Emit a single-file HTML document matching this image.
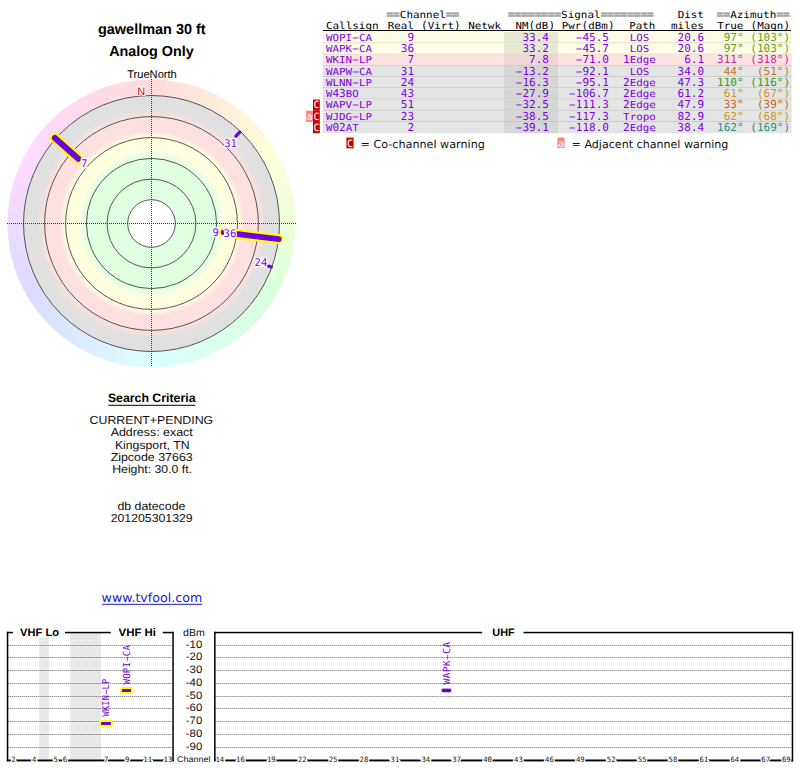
<!DOCTYPE html><html><head><meta charset="utf-8"><title>TV Fool</title><style>html,body{margin:0;padding:0;background:#fff;width:800px;height:768px;overflow:hidden}svg{display:block}text{white-space:pre}</style></head><body>
<svg width="800" height="768" viewBox="0 0 800 768" text-rendering="geometricPrecision">
<text x="98.0" y="34.3" font-family="'Liberation Sans', sans-serif" font-size="14.6" font-weight="bold" fill="#000" text-anchor="start" textLength="107.6" lengthAdjust="spacingAndGlyphs" >gawellman 30 ft</text>
<text x="109.2" y="55.7" font-family="'Liberation Sans', sans-serif" font-size="14.4" font-weight="bold" fill="#000" text-anchor="start" textLength="84.6" lengthAdjust="spacingAndGlyphs" >Analog Only</text>
<text x="127.2" y="77.6" font-family="'Liberation Sans', sans-serif" font-size="11.2" font-weight="normal" fill="#000" text-anchor="start" textLength="49.6" lengthAdjust="spacingAndGlyphs" >TrueNorth</text>
<defs><radialGradient id="rg" gradientUnits="userSpaceOnUse" cx="151.5" cy="223.5" r="128">
<stop offset="0.0000" stop-color="#ffffff"/>
<stop offset="0.1859" stop-color="#ffffff"/>
<stop offset="0.1859" stop-color="#e0ffe0"/>
<stop offset="0.5117" stop-color="#e0ffe0"/>
<stop offset="0.5781" stop-color="#ffffe0"/>
<stop offset="0.6719" stop-color="#ffffe0"/>
<stop offset="0.7227" stop-color="#ffe0e0"/>
<stop offset="0.8359" stop-color="#ffe0e0"/>
<stop offset="0.8906" stop-color="#e0e0e0"/>
<stop offset="1.0000" stop-color="#e0e0e0"/>
</radialGradient></defs>
<path d="M151.50,79.50A144,144 0 0 1 159.79,79.74L158.81,96.71A127,127 0 0 0 151.50,96.50Z" fill="hsl(1.5,100%,93%)"/>
<path d="M159.04,79.70A144,144 0 0 1 167.30,80.37L165.44,97.27A127,127 0 0 0 158.15,96.67Z" fill="hsl(4.5,100%,93%)"/>
<path d="M166.55,80.29A144,144 0 0 1 174.77,81.39L172.02,98.17A127,127 0 0 0 164.78,97.20Z" fill="hsl(7.5,100%,93%)"/>
<path d="M174.03,81.27A144,144 0 0 1 182.18,82.81L178.55,99.42A127,127 0 0 0 171.37,98.06Z" fill="hsl(10.5,100%,93%)"/>
<path d="M181.44,82.65A144,144 0 0 1 189.50,84.60L185.01,101.00A127,127 0 0 0 177.90,99.28Z" fill="hsl(13.5,100%,93%)"/>
<path d="M188.77,84.41A144,144 0 0 1 196.71,86.78L191.38,102.92A127,127 0 0 0 184.37,100.83Z" fill="hsl(16.5,100%,93%)"/>
<path d="M196.00,86.55A144,144 0 0 1 203.81,89.34L197.63,105.18A127,127 0 0 0 190.75,102.72Z" fill="hsl(19.5,100%,93%)"/>
<path d="M203.10,89.06A144,144 0 0 1 210.76,92.26L203.76,107.75A127,127 0 0 0 197.01,104.94Z" fill="hsl(22.5,100%,93%)"/>
<path d="M210.07,91.95A144,144 0 0 1 217.55,95.54L209.75,110.65A127,127 0 0 0 203.16,107.48Z" fill="hsl(25.5,100%,93%)"/>
<path d="M216.87,95.20A144,144 0 0 1 224.15,99.17L215.58,113.85A127,127 0 0 0 209.16,110.34Z" fill="hsl(28.5,100%,93%)"/>
<path d="M223.50,98.79A144,144 0 0 1 230.56,103.14L221.23,117.35A127,127 0 0 0 215.00,113.51Z" fill="hsl(31.5,100%,93%)"/>
<path d="M229.93,102.73A144,144 0 0 1 236.75,107.45L226.69,121.15A127,127 0 0 0 220.67,116.99Z" fill="hsl(34.5,100%,93%)"/>
<path d="M236.14,107.00A144,144 0 0 1 242.71,112.07L231.94,125.22A127,127 0 0 0 226.15,120.75Z" fill="hsl(37.5,100%,93%)"/>
<path d="M242.12,111.59A144,144 0 0 1 248.41,116.99L236.97,129.57A127,127 0 0 0 231.42,124.80Z" fill="hsl(40.5,100%,93%)"/>
<path d="M247.85,116.49A144,144 0 0 1 253.86,122.21L241.77,134.17A127,127 0 0 0 236.48,129.12Z" fill="hsl(43.5,100%,93%)"/>
<path d="M253.32,121.68A144,144 0 0 1 259.02,127.71L246.32,139.02A127,127 0 0 0 241.30,133.70Z" fill="hsl(46.5,100%,93%)"/>
<path d="M258.51,127.15A144,144 0 0 1 263.88,133.47L250.61,144.09A127,127 0 0 0 245.88,138.52Z" fill="hsl(49.5,100%,93%)"/>
<path d="M263.41,132.88A144,144 0 0 1 268.44,139.47L254.63,149.39A127,127 0 0 0 250.20,143.58Z" fill="hsl(52.5,100%,93%)"/>
<path d="M268.00,138.86A144,144 0 0 1 272.68,145.71L258.37,154.89A127,127 0 0 0 254.25,148.85Z" fill="hsl(55.5,100%,93%)"/>
<path d="M272.27,145.07A144,144 0 0 1 276.58,152.15L261.82,160.58A127,127 0 0 0 258.01,154.33Z" fill="hsl(58.5,100%,93%)"/>
<path d="M276.21,151.50A144,144 0 0 1 280.15,158.80L264.96,166.44A127,127 0 0 0 261.49,160.00Z" fill="hsl(61.5,100%,93%)"/>
<path d="M279.80,158.13A144,144 0 0 1 283.36,165.62L267.79,172.45A127,127 0 0 0 264.66,165.84Z" fill="hsl(64.5,100%,93%)"/>
<path d="M283.05,164.93A144,144 0 0 1 286.20,172.60L270.30,178.61A127,127 0 0 0 267.52,171.84Z" fill="hsl(67.5,100%,93%)"/>
<path d="M285.94,171.90A144,144 0 0 1 288.68,179.72L272.49,184.89A127,127 0 0 0 270.06,177.99Z" fill="hsl(70.5,100%,93%)"/>
<path d="M288.45,179.00A144,144 0 0 1 290.79,186.96L274.34,191.27A127,127 0 0 0 272.28,184.25Z" fill="hsl(73.5,100%,93%)"/>
<path d="M290.59,186.23A144,144 0 0 1 292.51,194.30L275.86,197.75A127,127 0 0 0 274.17,190.63Z" fill="hsl(76.5,100%,93%)"/>
<path d="M292.35,193.56A144,144 0 0 1 293.84,201.72L277.04,204.29A127,127 0 0 0 275.72,197.10Z" fill="hsl(79.5,100%,93%)"/>
<path d="M293.73,200.97A144,144 0 0 1 294.79,209.20L277.87,210.89A127,127 0 0 0 276.94,203.63Z" fill="hsl(82.5,100%,93%)"/>
<path d="M294.71,208.45A144,144 0 0 1 295.34,216.72L278.36,217.52A127,127 0 0 0 277.80,210.22Z" fill="hsl(85.5,100%,93%)"/>
<path d="M295.30,215.96A144,144 0 0 1 295.50,224.25L278.50,224.16A127,127 0 0 0 278.33,216.85Z" fill="hsl(88.5,100%,93%)"/>
<path d="M295.50,223.50A144,144 0 0 1 295.26,231.79L278.29,230.81A127,127 0 0 0 278.50,223.50Z" fill="hsl(91.5,100%,93%)"/>
<path d="M295.30,231.04A144,144 0 0 1 294.63,239.30L277.73,237.44A127,127 0 0 0 278.33,230.15Z" fill="hsl(94.5,100%,93%)"/>
<path d="M294.71,238.55A144,144 0 0 1 293.61,246.77L276.83,244.02A127,127 0 0 0 277.80,236.78Z" fill="hsl(97.5,100%,93%)"/>
<path d="M293.73,246.03A144,144 0 0 1 292.19,254.18L275.58,250.55A127,127 0 0 0 276.94,243.37Z" fill="hsl(100.5,100%,93%)"/>
<path d="M292.35,253.44A144,144 0 0 1 290.40,261.50L274.00,257.01A127,127 0 0 0 275.72,249.90Z" fill="hsl(103.5,100%,93%)"/>
<path d="M290.59,260.77A144,144 0 0 1 288.22,268.71L272.08,263.38A127,127 0 0 0 274.17,256.37Z" fill="hsl(106.5,100%,93%)"/>
<path d="M288.45,268.00A144,144 0 0 1 285.66,275.81L269.82,269.63A127,127 0 0 0 272.28,262.75Z" fill="hsl(109.5,100%,93%)"/>
<path d="M285.94,275.10A144,144 0 0 1 282.74,282.76L267.25,275.76A127,127 0 0 0 270.06,269.01Z" fill="hsl(112.5,100%,93%)"/>
<path d="M283.05,282.07A144,144 0 0 1 279.46,289.55L264.35,281.75A127,127 0 0 0 267.52,275.16Z" fill="hsl(115.5,100%,93%)"/>
<path d="M279.80,288.87A144,144 0 0 1 275.83,296.15L261.15,287.58A127,127 0 0 0 264.66,281.16Z" fill="hsl(118.5,100%,93%)"/>
<path d="M276.21,295.50A144,144 0 0 1 271.86,302.56L257.65,293.23A127,127 0 0 0 261.49,287.00Z" fill="hsl(121.5,100%,93%)"/>
<path d="M272.27,301.93A144,144 0 0 1 267.55,308.75L253.85,298.69A127,127 0 0 0 258.01,292.67Z" fill="hsl(124.5,100%,93%)"/>
<path d="M268.00,308.14A144,144 0 0 1 262.93,314.71L249.78,303.94A127,127 0 0 0 254.25,298.15Z" fill="hsl(127.5,100%,93%)"/>
<path d="M263.41,314.12A144,144 0 0 1 258.01,320.41L245.43,308.97A127,127 0 0 0 250.20,303.42Z" fill="hsl(130.5,100%,93%)"/>
<path d="M258.51,319.85A144,144 0 0 1 252.79,325.86L240.83,313.77A127,127 0 0 0 245.88,308.48Z" fill="hsl(133.5,100%,93%)"/>
<path d="M253.32,325.32A144,144 0 0 1 247.29,331.02L235.98,318.32A127,127 0 0 0 241.30,313.30Z" fill="hsl(136.5,100%,93%)"/>
<path d="M247.85,330.51A144,144 0 0 1 241.53,335.88L230.91,322.61A127,127 0 0 0 236.48,317.88Z" fill="hsl(139.5,100%,93%)"/>
<path d="M242.12,335.41A144,144 0 0 1 235.53,340.44L225.61,326.63A127,127 0 0 0 231.42,322.20Z" fill="hsl(142.5,100%,93%)"/>
<path d="M236.14,340.00A144,144 0 0 1 229.29,344.68L220.11,330.37A127,127 0 0 0 226.15,326.25Z" fill="hsl(145.5,100%,93%)"/>
<path d="M229.93,344.27A144,144 0 0 1 222.85,348.58L214.42,333.82A127,127 0 0 0 220.67,330.01Z" fill="hsl(148.5,100%,93%)"/>
<path d="M223.50,348.21A144,144 0 0 1 216.20,352.15L208.56,336.96A127,127 0 0 0 215.00,333.49Z" fill="hsl(151.5,100%,93%)"/>
<path d="M216.87,351.80A144,144 0 0 1 209.38,355.36L202.55,339.79A127,127 0 0 0 209.16,336.66Z" fill="hsl(154.5,100%,93%)"/>
<path d="M210.07,355.05A144,144 0 0 1 202.40,358.20L196.39,342.30A127,127 0 0 0 203.16,339.52Z" fill="hsl(157.5,100%,93%)"/>
<path d="M203.10,357.94A144,144 0 0 1 195.28,360.68L190.11,344.49A127,127 0 0 0 197.01,342.06Z" fill="hsl(160.5,100%,93%)"/>
<path d="M196.00,360.45A144,144 0 0 1 188.04,362.79L183.73,346.34A127,127 0 0 0 190.75,344.28Z" fill="hsl(163.5,100%,93%)"/>
<path d="M188.77,362.59A144,144 0 0 1 180.70,364.51L177.25,347.86A127,127 0 0 0 184.37,346.17Z" fill="hsl(166.5,100%,93%)"/>
<path d="M181.44,364.35A144,144 0 0 1 173.28,365.84L170.71,349.04A127,127 0 0 0 177.90,347.72Z" fill="hsl(169.5,100%,93%)"/>
<path d="M174.03,365.73A144,144 0 0 1 165.80,366.79L164.11,349.87A127,127 0 0 0 171.37,348.94Z" fill="hsl(172.5,100%,93%)"/>
<path d="M166.55,366.71A144,144 0 0 1 158.28,367.34L157.48,350.36A127,127 0 0 0 164.78,349.80Z" fill="hsl(175.5,100%,93%)"/>
<path d="M159.04,367.30A144,144 0 0 1 150.75,367.50L150.84,350.50A127,127 0 0 0 158.15,350.33Z" fill="hsl(178.5,100%,93%)"/>
<path d="M151.50,367.50A144,144 0 0 1 143.21,367.26L144.19,350.29A127,127 0 0 0 151.50,350.50Z" fill="hsl(181.5,100%,93%)"/>
<path d="M143.96,367.30A144,144 0 0 1 135.70,366.63L137.56,349.73A127,127 0 0 0 144.85,350.33Z" fill="hsl(184.5,100%,93%)"/>
<path d="M136.45,366.71A144,144 0 0 1 128.23,365.61L130.98,348.83A127,127 0 0 0 138.22,349.80Z" fill="hsl(187.5,100%,93%)"/>
<path d="M128.97,365.73A144,144 0 0 1 120.82,364.19L124.45,347.58A127,127 0 0 0 131.63,348.94Z" fill="hsl(190.5,100%,93%)"/>
<path d="M121.56,364.35A144,144 0 0 1 113.50,362.40L117.99,346.00A127,127 0 0 0 125.10,347.72Z" fill="hsl(193.5,100%,93%)"/>
<path d="M114.23,362.59A144,144 0 0 1 106.29,360.22L111.62,344.08A127,127 0 0 0 118.63,346.17Z" fill="hsl(196.5,100%,93%)"/>
<path d="M107.00,360.45A144,144 0 0 1 99.19,357.66L105.37,341.82A127,127 0 0 0 112.25,344.28Z" fill="hsl(199.5,100%,93%)"/>
<path d="M99.90,357.94A144,144 0 0 1 92.24,354.74L99.24,339.25A127,127 0 0 0 105.99,342.06Z" fill="hsl(202.5,100%,93%)"/>
<path d="M92.93,355.05A144,144 0 0 1 85.45,351.46L93.25,336.35A127,127 0 0 0 99.84,339.52Z" fill="hsl(205.5,100%,93%)"/>
<path d="M86.13,351.80A144,144 0 0 1 78.85,347.83L87.42,333.15A127,127 0 0 0 93.84,336.66Z" fill="hsl(208.5,100%,93%)"/>
<path d="M79.50,348.21A144,144 0 0 1 72.44,343.86L81.77,329.65A127,127 0 0 0 88.00,333.49Z" fill="hsl(211.5,100%,93%)"/>
<path d="M73.07,344.27A144,144 0 0 1 66.25,339.55L76.31,325.85A127,127 0 0 0 82.33,330.01Z" fill="hsl(214.5,100%,93%)"/>
<path d="M66.86,340.00A144,144 0 0 1 60.29,334.93L71.06,321.78A127,127 0 0 0 76.85,326.25Z" fill="hsl(217.5,100%,93%)"/>
<path d="M60.88,335.41A144,144 0 0 1 54.59,330.01L66.03,317.43A127,127 0 0 0 71.58,322.20Z" fill="hsl(220.5,100%,93%)"/>
<path d="M55.15,330.51A144,144 0 0 1 49.14,324.79L61.23,312.83A127,127 0 0 0 66.52,317.88Z" fill="hsl(223.5,100%,93%)"/>
<path d="M49.68,325.32A144,144 0 0 1 43.98,319.29L56.68,307.98A127,127 0 0 0 61.70,313.30Z" fill="hsl(226.5,100%,93%)"/>
<path d="M44.49,319.85A144,144 0 0 1 39.12,313.53L52.39,302.91A127,127 0 0 0 57.12,308.48Z" fill="hsl(229.5,100%,93%)"/>
<path d="M39.59,314.12A144,144 0 0 1 34.56,307.53L48.37,297.61A127,127 0 0 0 52.80,303.42Z" fill="hsl(232.5,100%,93%)"/>
<path d="M35.00,308.14A144,144 0 0 1 30.32,301.29L44.63,292.11A127,127 0 0 0 48.75,298.15Z" fill="hsl(235.5,100%,93%)"/>
<path d="M30.73,301.93A144,144 0 0 1 26.42,294.85L41.18,286.42A127,127 0 0 0 44.99,292.67Z" fill="hsl(238.5,100%,93%)"/>
<path d="M26.79,295.50A144,144 0 0 1 22.85,288.20L38.04,280.56A127,127 0 0 0 41.51,287.00Z" fill="hsl(241.5,100%,93%)"/>
<path d="M23.20,288.87A144,144 0 0 1 19.64,281.38L35.21,274.55A127,127 0 0 0 38.34,281.16Z" fill="hsl(244.5,100%,93%)"/>
<path d="M19.95,282.07A144,144 0 0 1 16.80,274.40L32.70,268.39A127,127 0 0 0 35.48,275.16Z" fill="hsl(247.5,100%,93%)"/>
<path d="M17.06,275.10A144,144 0 0 1 14.32,267.28L30.51,262.11A127,127 0 0 0 32.94,269.01Z" fill="hsl(250.5,100%,93%)"/>
<path d="M14.55,268.00A144,144 0 0 1 12.21,260.04L28.66,255.73A127,127 0 0 0 30.72,262.75Z" fill="hsl(253.5,100%,93%)"/>
<path d="M12.41,260.77A144,144 0 0 1 10.49,252.70L27.14,249.25A127,127 0 0 0 28.83,256.37Z" fill="hsl(256.5,100%,93%)"/>
<path d="M10.65,253.44A144,144 0 0 1 9.16,245.28L25.96,242.71A127,127 0 0 0 27.28,249.90Z" fill="hsl(259.5,100%,93%)"/>
<path d="M9.27,246.03A144,144 0 0 1 8.21,237.80L25.13,236.11A127,127 0 0 0 26.06,243.37Z" fill="hsl(262.5,100%,93%)"/>
<path d="M8.29,238.55A144,144 0 0 1 7.66,230.28L24.64,229.48A127,127 0 0 0 25.20,236.78Z" fill="hsl(265.5,100%,93%)"/>
<path d="M7.70,231.04A144,144 0 0 1 7.50,222.75L24.50,222.84A127,127 0 0 0 24.67,230.15Z" fill="hsl(268.5,100%,93%)"/>
<path d="M7.50,223.50A144,144 0 0 1 7.74,215.21L24.71,216.19A127,127 0 0 0 24.50,223.50Z" fill="hsl(271.5,100%,93%)"/>
<path d="M7.70,215.96A144,144 0 0 1 8.37,207.70L25.27,209.56A127,127 0 0 0 24.67,216.85Z" fill="hsl(274.5,100%,93%)"/>
<path d="M8.29,208.45A144,144 0 0 1 9.39,200.23L26.17,202.98A127,127 0 0 0 25.20,210.22Z" fill="hsl(277.5,100%,93%)"/>
<path d="M9.27,200.97A144,144 0 0 1 10.81,192.82L27.42,196.45A127,127 0 0 0 26.06,203.63Z" fill="hsl(280.5,100%,93%)"/>
<path d="M10.65,193.56A144,144 0 0 1 12.60,185.50L29.00,189.99A127,127 0 0 0 27.28,197.10Z" fill="hsl(283.5,100%,93%)"/>
<path d="M12.41,186.23A144,144 0 0 1 14.78,178.29L30.92,183.62A127,127 0 0 0 28.83,190.63Z" fill="hsl(286.5,100%,93%)"/>
<path d="M14.55,179.00A144,144 0 0 1 17.34,171.19L33.18,177.37A127,127 0 0 0 30.72,184.25Z" fill="hsl(289.5,100%,93%)"/>
<path d="M17.06,171.90A144,144 0 0 1 20.26,164.24L35.75,171.24A127,127 0 0 0 32.94,177.99Z" fill="hsl(292.5,100%,93%)"/>
<path d="M19.95,164.93A144,144 0 0 1 23.54,157.45L38.65,165.25A127,127 0 0 0 35.48,171.84Z" fill="hsl(295.5,100%,93%)"/>
<path d="M23.20,158.13A144,144 0 0 1 27.17,150.85L41.85,159.42A127,127 0 0 0 38.34,165.84Z" fill="hsl(298.5,100%,93%)"/>
<path d="M26.79,151.50A144,144 0 0 1 31.14,144.44L45.35,153.77A127,127 0 0 0 41.51,160.00Z" fill="hsl(301.5,100%,93%)"/>
<path d="M30.73,145.07A144,144 0 0 1 35.45,138.25L49.15,148.31A127,127 0 0 0 44.99,154.33Z" fill="hsl(304.5,100%,93%)"/>
<path d="M35.00,138.86A144,144 0 0 1 40.07,132.29L53.22,143.06A127,127 0 0 0 48.75,148.85Z" fill="hsl(307.5,100%,93%)"/>
<path d="M39.59,132.88A144,144 0 0 1 44.99,126.59L57.57,138.03A127,127 0 0 0 52.80,143.58Z" fill="hsl(310.5,100%,93%)"/>
<path d="M44.49,127.15A144,144 0 0 1 50.21,121.14L62.17,133.23A127,127 0 0 0 57.12,138.52Z" fill="hsl(313.5,100%,93%)"/>
<path d="M49.68,121.68A144,144 0 0 1 55.71,115.98L67.02,128.68A127,127 0 0 0 61.70,133.70Z" fill="hsl(316.5,100%,93%)"/>
<path d="M55.15,116.49A144,144 0 0 1 61.47,111.12L72.09,124.39A127,127 0 0 0 66.52,129.12Z" fill="hsl(319.5,100%,93%)"/>
<path d="M60.88,111.59A144,144 0 0 1 67.47,106.56L77.39,120.37A127,127 0 0 0 71.58,124.80Z" fill="hsl(322.5,100%,93%)"/>
<path d="M66.86,107.00A144,144 0 0 1 73.71,102.32L82.89,116.63A127,127 0 0 0 76.85,120.75Z" fill="hsl(325.5,100%,93%)"/>
<path d="M73.07,102.73A144,144 0 0 1 80.15,98.42L88.58,113.18A127,127 0 0 0 82.33,116.99Z" fill="hsl(328.5,100%,93%)"/>
<path d="M79.50,98.79A144,144 0 0 1 86.80,94.85L94.44,110.04A127,127 0 0 0 88.00,113.51Z" fill="hsl(331.5,100%,93%)"/>
<path d="M86.13,95.20A144,144 0 0 1 93.62,91.64L100.45,107.21A127,127 0 0 0 93.84,110.34Z" fill="hsl(334.5,100%,93%)"/>
<path d="M92.93,91.95A144,144 0 0 1 100.60,88.80L106.61,104.70A127,127 0 0 0 99.84,107.48Z" fill="hsl(337.5,100%,93%)"/>
<path d="M99.90,89.06A144,144 0 0 1 107.72,86.32L112.89,102.51A127,127 0 0 0 105.99,104.94Z" fill="hsl(340.5,100%,93%)"/>
<path d="M107.00,86.55A144,144 0 0 1 114.96,84.21L119.27,100.66A127,127 0 0 0 112.25,102.72Z" fill="hsl(343.5,100%,93%)"/>
<path d="M114.23,84.41A144,144 0 0 1 122.30,82.49L125.75,99.14A127,127 0 0 0 118.63,100.83Z" fill="hsl(346.5,100%,93%)"/>
<path d="M121.56,82.65A144,144 0 0 1 129.72,81.16L132.29,97.96A127,127 0 0 0 125.10,99.28Z" fill="hsl(349.5,100%,93%)"/>
<path d="M128.97,81.27A144,144 0 0 1 137.20,80.21L138.89,97.13A127,127 0 0 0 131.63,98.06Z" fill="hsl(352.5,100%,93%)"/>
<path d="M136.45,80.29A144,144 0 0 1 144.72,79.66L145.52,96.64A127,127 0 0 0 138.22,97.20Z" fill="hsl(355.5,100%,93%)"/>
<path d="M143.96,79.70A144,144 0 0 1 152.25,79.50L152.16,96.50A127,127 0 0 0 144.85,96.67Z" fill="hsl(358.5,100%,93%)"/>
<circle cx="151.5" cy="223.5" r="128" fill="url(#rg)"/>
<circle cx="151.5" cy="223.5" r="23.8" fill="none" stroke="#444" stroke-width="0.9"/>
<circle cx="151.5" cy="223.5" r="44.4" fill="none" stroke="#444" stroke-width="0.9"/>
<circle cx="151.5" cy="223.5" r="65.1" fill="none" stroke="#444" stroke-width="0.9"/>
<circle cx="151.5" cy="223.5" r="85.9" fill="none" stroke="#444" stroke-width="0.9"/>
<circle cx="151.5" cy="223.5" r="106.9" fill="none" stroke="#444" stroke-width="0.9"/>
<circle cx="151.5" cy="223.5" r="128.0" fill="none" stroke="#444" stroke-width="0.9"/>
<line x1="7" y1="223.5" x2="296" y2="223.5" stroke="#333" stroke-width="1" stroke-dasharray="1 1"/>
<line x1="151.5" y1="79" x2="151.5" y2="366" stroke="#333" stroke-width="1" stroke-dasharray="1 1"/>
<line x1="223.46" y1="232.34" x2="278.74" y2="239.12" stroke="#ffff00" stroke-width="9.6" stroke-linecap="round"/><line x1="223.46" y1="232.34" x2="278.74" y2="239.12" stroke="#7000dc" stroke-width="5.4" stroke-linecap="round"/>
<line x1="237.85" y1="234.10" x2="278.74" y2="239.12" stroke="#ffff00" stroke-width="10" stroke-linecap="round"/><line x1="237.85" y1="234.10" x2="278.74" y2="239.12" stroke="#7000dc" stroke-width="5.8" stroke-linecap="round"/>
<line x1="78.33" y1="158.76" x2="54.88" y2="138.02" stroke="#ffff00" stroke-width="10" stroke-linecap="round"/><line x1="78.33" y1="158.76" x2="54.88" y2="138.02" stroke="#7000dc" stroke-width="6" stroke-linecap="round"/>
<line x1="235.90" y1="136.10" x2="239.72" y2="132.14" stroke="#7000dc" stroke-width="3.2" stroke-linecap="round"/>
<line x1="268.49" y1="266.08" x2="271.31" y2="267.11" stroke="#7000dc" stroke-width="3.2" stroke-linecap="round"/>
<rect x="81.31" y="158.60" width="5.78" height="9.8" fill="#fff" fill-opacity="0.92"/><text x="84.2" y="167.4" font-family="'DejaVu Sans Mono', monospace" font-size="10.6" font-weight="normal" fill="#8000e0" text-anchor="middle" stroke="#fff" stroke-width="2.2" stroke-linejoin="round" paint-order="stroke">7</text>
<rect x="224.52" y="138.20" width="12.16" height="9.8" fill="#fff" fill-opacity="0.92"/><text x="230.6" y="147.0" font-family="'DejaVu Sans Mono', monospace" font-size="10.6" font-weight="normal" fill="#8000e0" text-anchor="middle" stroke="#fff" stroke-width="2.2" stroke-linejoin="round" paint-order="stroke">31</text>
<rect x="212.91" y="227.30" width="5.78" height="9.8" fill="#fff" fill-opacity="0.92"/><text x="215.8" y="236.1" font-family="'DejaVu Sans Mono', monospace" font-size="10.6" font-weight="normal" fill="#8000e0" text-anchor="middle" stroke="#fff" stroke-width="2.2" stroke-linejoin="round" paint-order="stroke">9</text>
<rect x="223.92" y="228.20" width="12.16" height="9.8" fill="#fff" fill-opacity="0.92"/><text x="230.0" y="237.0" font-family="'DejaVu Sans Mono', monospace" font-size="10.6" font-weight="normal" fill="#8000e0" text-anchor="middle" stroke="#fff" stroke-width="2.2" stroke-linejoin="round" paint-order="stroke">36</text>
<rect x="254.82" y="257.50" width="12.16" height="9.8" fill="#fff" fill-opacity="0.92"/><text x="260.9" y="266.3" font-family="'DejaVu Sans Mono', monospace" font-size="10.6" font-weight="normal" fill="#8000e0" text-anchor="middle" stroke="#fff" stroke-width="2.2" stroke-linejoin="round" paint-order="stroke">24</text>
<text x="137.3" y="95" font-family="'Liberation Sans', sans-serif" font-size="11" font-weight="normal" fill="#e00000" text-anchor="start" stroke="#fff" stroke-width="2.2" stroke-linejoin="round" paint-order="stroke">N</text>
<rect x="323" y="30" width="468" height="1" fill="#000"/>
<text x="386.40" y="17.8" font-family="'DejaVu Sans Mono', monospace" font-size="11" fill="#a4a4a4" font-weight="bold" stroke="#a4a4a4" stroke-width="0.55">==</text>
<text y="17.8" font-family="'DejaVu Sans Mono', monospace" fill="#000"><tspan x="399.80" font-size="9.7" textLength="46.06" lengthAdjust="spacingAndGlyphs">Channel</tspan></text>
<text x="446.00" y="17.8" font-family="'DejaVu Sans Mono', monospace" font-size="11" fill="#a4a4a4" font-weight="bold" stroke="#a4a4a4" stroke-width="0.55">==</text>
<text x="508.00" y="17.8" font-family="'DejaVu Sans Mono', monospace" font-size="11" fill="#a4a4a4" font-weight="bold" stroke="#a4a4a4" stroke-width="0.55">========</text>
<text y="17.8" font-family="'DejaVu Sans Mono', monospace" fill="#000"><tspan x="561.13" font-size="9.7" textLength="39.44" lengthAdjust="spacingAndGlyphs">Signal</tspan></text>
<text x="600.72" y="17.8" font-family="'DejaVu Sans Mono', monospace" font-size="11" fill="#a4a4a4" font-weight="bold" stroke="#a4a4a4" stroke-width="0.55">========</text>
<text y="17.8" font-family="'DejaVu Sans Mono', monospace" fill="#000"><tspan x="677.66" font-size="9.7" textLength="26.19" lengthAdjust="spacingAndGlyphs">Dist</tspan></text>
<text x="716.80" y="17.8" font-family="'DejaVu Sans Mono', monospace" font-size="11" fill="#a4a4a4" font-weight="bold" stroke="#a4a4a4" stroke-width="0.55">==</text>
<text y="17.8" font-family="'DejaVu Sans Mono', monospace" fill="#000"><tspan x="730.20" font-size="9.7" textLength="46.06" lengthAdjust="spacingAndGlyphs">Azimuth</tspan></text>
<text x="776.40" y="17.8" font-family="'DejaVu Sans Mono', monospace" font-size="11" fill="#a4a4a4" font-weight="bold" stroke="#a4a4a4" stroke-width="0.55">==</text>
<text y="28.6" font-family="'DejaVu Sans Mono', monospace" fill="#000"><tspan x="325.95" font-size="9.7" textLength="52.68" lengthAdjust="spacingAndGlyphs">Callsign</tspan></text>
<text y="28.6" font-family="'DejaVu Sans Mono', monospace" fill="#000"><tspan x="387.66" font-size="9.7" textLength="26.19" lengthAdjust="spacingAndGlyphs">Real</tspan></text>
<text y="28.6" font-family="'DejaVu Sans Mono', monospace" fill="#000"><tspan x="421.00" font-size="11">(</tspan><tspan x="427.77" font-size="9.7" textLength="26.19" lengthAdjust="spacingAndGlyphs">Virt</tspan><tspan x="454.11" font-size="11">)</tspan></text>
<text y="28.6" font-family="'DejaVu Sans Mono', monospace" fill="#000"><tspan x="468.15" font-size="9.7" textLength="32.81" lengthAdjust="spacingAndGlyphs">Netwk</tspan></text>
<text y="28.6" font-family="'DejaVu Sans Mono', monospace" fill="#000"><tspan x="515.41" font-size="9.7" textLength="12.95" lengthAdjust="spacingAndGlyphs">NM</tspan><tspan x="528.51" font-size="11">(</tspan><tspan x="535.28" font-size="9.7" textLength="12.95" lengthAdjust="spacingAndGlyphs">dB</tspan><tspan x="548.38" font-size="11">)</tspan></text>
<text y="28.6" font-family="'DejaVu Sans Mono', monospace" fill="#000"><tspan x="561.77" font-size="9.7" textLength="19.57" lengthAdjust="spacingAndGlyphs">Pwr</tspan><tspan x="581.49" font-size="11">(</tspan><tspan x="588.26" font-size="9.7" textLength="19.57" lengthAdjust="spacingAndGlyphs">dBm</tspan><tspan x="607.98" font-size="11">)</tspan></text>
<text y="28.6" font-family="'DejaVu Sans Mono', monospace" fill="#000"><tspan x="629.15" font-size="9.7" textLength="26.19" lengthAdjust="spacingAndGlyphs">Path</tspan></text>
<text y="28.6" font-family="'DejaVu Sans Mono', monospace" fill="#000"><tspan x="671.04" font-size="9.7" textLength="32.81" lengthAdjust="spacingAndGlyphs">miles</tspan></text>
<text y="28.6" font-family="'DejaVu Sans Mono', monospace" fill="#000"><tspan x="717.16" font-size="9.7" textLength="26.19" lengthAdjust="spacingAndGlyphs">True</tspan></text>
<text y="28.6" font-family="'DejaVu Sans Mono', monospace" fill="#000"><tspan x="750.46" font-size="11">(</tspan><tspan x="757.24" font-size="9.7" textLength="26.19" lengthAdjust="spacingAndGlyphs">Magn</tspan><tspan x="783.58" font-size="11">)</tspan></text>
<rect x="323" y="32.20" width="468.5" height="11.22" fill="#fcfce6"/>
<rect x="504" y="32.20" width="54" height="11.22" fill="#e6e9d2"/>
<rect x="323" y="42.52" width="468.5" height="0.9" fill="#d4d4c0"/>
<text y="41.05" font-family="'DejaVu Sans Mono', monospace" fill="#8000e0"><tspan x="325.95" font-size="9.7" textLength="26.19" lengthAdjust="spacingAndGlyphs">WOPI</tspan><tspan x="348.99" font-size="11" textLength="13" lengthAdjust="spacingAndGlyphs">-</tspan><tspan x="359.06" font-size="9.7" textLength="12.95" lengthAdjust="spacingAndGlyphs">CA</tspan></text>
<text y="41.05" font-family="'DejaVu Sans Mono', monospace" fill="#8000e0"><tspan x="407.38" font-size="11">9</tspan></text>
<text y="41.05" font-family="'DejaVu Sans Mono', monospace" fill="#8000e0"><tspan x="522.41 529.03 535.65 542.28" font-size="11">33.4</tspan></text>
<text y="41.05" font-family="'DejaVu Sans Mono', monospace" fill="#8000e0"><tspan x="572.49" font-size="11" textLength="13" lengthAdjust="spacingAndGlyphs">-</tspan><tspan x="582.41 589.03 595.65 602.28" font-size="11">45.5</tspan></text>
<text y="41.05" font-family="'DejaVu Sans Mono', monospace" fill="#8000e0"><tspan x="629.72" font-size="9.7" textLength="19.57" lengthAdjust="spacingAndGlyphs">LOS</tspan></text>
<text y="41.05" font-family="'DejaVu Sans Mono', monospace" fill="#8000e0"><tspan x="677.51 684.13 690.75 697.38" font-size="11">20.6</tspan></text>
<text y="41.05" font-family="'DejaVu Sans Mono', monospace" fill="#5f9f1f"><tspan x="723.63 730.25 736.88" font-size="11">97°</tspan></text>
<text y="41.05" font-family="'DejaVu Sans Mono', monospace" fill="#5f9f1f"><tspan x="750.26 756.89 763.51 770.13 776.75 783.38" font-size="11">(103°)</tspan></text>
<rect x="323" y="43.42" width="468.5" height="11.22" fill="#fcfce6"/>
<rect x="504" y="43.42" width="54" height="11.22" fill="#e6e9d2"/>
<rect x="323" y="53.74" width="468.5" height="0.9" fill="#d4d4c0"/>
<text y="52.27" font-family="'DejaVu Sans Mono', monospace" fill="#8000e0"><tspan x="325.95" font-size="9.7" textLength="26.19" lengthAdjust="spacingAndGlyphs">WAPK</tspan><tspan x="348.99" font-size="11" textLength="13" lengthAdjust="spacingAndGlyphs">-</tspan><tspan x="359.06" font-size="9.7" textLength="12.95" lengthAdjust="spacingAndGlyphs">CA</tspan></text>
<text y="52.27" font-family="'DejaVu Sans Mono', monospace" fill="#8000e0"><tspan x="400.75 407.38" font-size="11">36</tspan></text>
<text y="52.27" font-family="'DejaVu Sans Mono', monospace" fill="#8000e0"><tspan x="522.41 529.03 535.65 542.28" font-size="11">33.2</tspan></text>
<text y="52.27" font-family="'DejaVu Sans Mono', monospace" fill="#8000e0"><tspan x="572.49" font-size="11" textLength="13" lengthAdjust="spacingAndGlyphs">-</tspan><tspan x="582.41 589.03 595.65 602.28" font-size="11">45.7</tspan></text>
<text y="52.27" font-family="'DejaVu Sans Mono', monospace" fill="#8000e0"><tspan x="629.72" font-size="9.7" textLength="19.57" lengthAdjust="spacingAndGlyphs">LOS</tspan></text>
<text y="52.27" font-family="'DejaVu Sans Mono', monospace" fill="#8000e0"><tspan x="677.51 684.13 690.75 697.38" font-size="11">20.6</tspan></text>
<text y="52.27" font-family="'DejaVu Sans Mono', monospace" fill="#5f9f1f"><tspan x="723.63 730.25 736.88" font-size="11">97°</tspan></text>
<text y="52.27" font-family="'DejaVu Sans Mono', monospace" fill="#5f9f1f"><tspan x="750.26 756.89 763.51 770.13 776.75 783.38" font-size="11">(103°)</tspan></text>
<rect x="323" y="54.64" width="468.5" height="11.22" fill="#ffe2e2"/>
<rect x="504" y="54.64" width="54" height="11.22" fill="#eed6d6"/>
<rect x="323" y="64.96" width="468.5" height="0.9" fill="#dcc2c2"/>
<text y="63.49" font-family="'DejaVu Sans Mono', monospace" fill="#8000e0"><tspan x="325.95" font-size="9.7" textLength="26.19" lengthAdjust="spacingAndGlyphs">WKIN</tspan><tspan x="348.99" font-size="11" textLength="13" lengthAdjust="spacingAndGlyphs">-</tspan><tspan x="359.06" font-size="9.7" textLength="12.95" lengthAdjust="spacingAndGlyphs">LP</tspan></text>
<text y="63.49" font-family="'DejaVu Sans Mono', monospace" fill="#8000e0"><tspan x="407.38" font-size="11">7</tspan></text>
<text y="63.49" font-family="'DejaVu Sans Mono', monospace" fill="#8000e0"><tspan x="529.03 535.65 542.28" font-size="11">7.8</tspan></text>
<text y="63.49" font-family="'DejaVu Sans Mono', monospace" fill="#8000e0"><tspan x="572.49" font-size="11" textLength="13" lengthAdjust="spacingAndGlyphs">-</tspan><tspan x="582.41 589.03 595.65 602.28" font-size="11">71.0</tspan></text>
<text y="63.49" font-family="'DejaVu Sans Mono', monospace" fill="#8000e0"><tspan x="622.94" font-size="11">1</tspan><tspan x="629.72" font-size="9.7" textLength="26.19" lengthAdjust="spacingAndGlyphs">Edge</tspan></text>
<text y="63.49" font-family="'DejaVu Sans Mono', monospace" fill="#8000e0"><tspan x="684.13 690.75 697.38" font-size="11">6.1</tspan></text>
<text y="63.49" font-family="'DejaVu Sans Mono', monospace" fill="#cc1f99"><tspan x="717.01 723.63 730.25 736.88" font-size="11">311°</tspan></text>
<text y="63.49" font-family="'DejaVu Sans Mono', monospace" fill="#cc1f99"><tspan x="750.26 756.89 763.51 770.13 776.75 783.38" font-size="11">(318°)</tspan></text>
<rect x="323" y="65.86" width="468.5" height="11.22" fill="#e4e4e4"/>
<rect x="504" y="65.86" width="54" height="11.22" fill="#d6d6d6"/>
<rect x="323" y="76.18" width="468.5" height="0.9" fill="#c6c6c6"/>
<text y="74.71" font-family="'DejaVu Sans Mono', monospace" fill="#8000e0"><tspan x="325.95" font-size="9.7" textLength="26.19" lengthAdjust="spacingAndGlyphs">WAPW</tspan><tspan x="348.99" font-size="11" textLength="13" lengthAdjust="spacingAndGlyphs">-</tspan><tspan x="359.06" font-size="9.7" textLength="12.95" lengthAdjust="spacingAndGlyphs">CA</tspan></text>
<text y="74.71" font-family="'DejaVu Sans Mono', monospace" fill="#8000e0"><tspan x="400.75 407.38" font-size="11">31</tspan></text>
<text y="74.71" font-family="'DejaVu Sans Mono', monospace" fill="#8000e0"><tspan x="512.49" font-size="11" textLength="13" lengthAdjust="spacingAndGlyphs">-</tspan><tspan x="522.41 529.03 535.65 542.28" font-size="11">13.2</tspan></text>
<text y="74.71" font-family="'DejaVu Sans Mono', monospace" fill="#8000e0"><tspan x="572.49" font-size="11" textLength="13" lengthAdjust="spacingAndGlyphs">-</tspan><tspan x="582.41 589.03 595.65 602.28" font-size="11">92.1</tspan></text>
<text y="74.71" font-family="'DejaVu Sans Mono', monospace" fill="#8000e0"><tspan x="629.72" font-size="9.7" textLength="19.57" lengthAdjust="spacingAndGlyphs">LOS</tspan></text>
<text y="74.71" font-family="'DejaVu Sans Mono', monospace" fill="#8000e0"><tspan x="677.51 684.13 690.75 697.38" font-size="11">34.0</tspan></text>
<text y="74.71" font-family="'DejaVu Sans Mono', monospace" fill="#c8741c"><tspan x="723.63 730.25 736.88" font-size="11">44°</tspan></text>
<text y="74.71" font-family="'DejaVu Sans Mono', monospace" fill="#c8741c"><tspan x="756.89 763.51 770.13 776.75 783.38" font-size="11">(51°)</tspan></text>
<rect x="323" y="77.08" width="468.5" height="11.22" fill="#e4e4e4"/>
<rect x="504" y="77.08" width="54" height="11.22" fill="#d6d6d6"/>
<rect x="323" y="87.40" width="468.5" height="0.9" fill="#c6c6c6"/>
<text y="85.93" font-family="'DejaVu Sans Mono', monospace" fill="#8000e0"><tspan x="325.95" font-size="9.7" textLength="26.19" lengthAdjust="spacingAndGlyphs">WLNN</tspan><tspan x="348.99" font-size="11" textLength="13" lengthAdjust="spacingAndGlyphs">-</tspan><tspan x="359.06" font-size="9.7" textLength="12.95" lengthAdjust="spacingAndGlyphs">LP</tspan></text>
<text y="85.93" font-family="'DejaVu Sans Mono', monospace" fill="#8000e0"><tspan x="400.75 407.38" font-size="11">24</tspan></text>
<text y="85.93" font-family="'DejaVu Sans Mono', monospace" fill="#8000e0"><tspan x="512.49" font-size="11" textLength="13" lengthAdjust="spacingAndGlyphs">-</tspan><tspan x="522.41 529.03 535.65 542.28" font-size="11">16.3</tspan></text>
<text y="85.93" font-family="'DejaVu Sans Mono', monospace" fill="#8000e0"><tspan x="572.49" font-size="11" textLength="13" lengthAdjust="spacingAndGlyphs">-</tspan><tspan x="582.41 589.03 595.65 602.28" font-size="11">95.1</tspan></text>
<text y="85.93" font-family="'DejaVu Sans Mono', monospace" fill="#8000e0"><tspan x="622.94" font-size="11">2</tspan><tspan x="629.72" font-size="9.7" textLength="26.19" lengthAdjust="spacingAndGlyphs">Edge</tspan></text>
<text y="85.93" font-family="'DejaVu Sans Mono', monospace" fill="#8000e0"><tspan x="677.51 684.13 690.75 697.38" font-size="11">47.3</tspan></text>
<text y="85.93" font-family="'DejaVu Sans Mono', monospace" fill="#2f9f1f"><tspan x="717.01 723.63 730.25 736.88" font-size="11">110°</tspan></text>
<text y="85.93" font-family="'DejaVu Sans Mono', monospace" fill="#2f9f1f"><tspan x="750.26 756.89 763.51 770.13 776.75 783.38" font-size="11">(116°)</tspan></text>
<rect x="323" y="88.30" width="468.5" height="11.22" fill="#e4e4e4"/>
<rect x="504" y="88.30" width="54" height="11.22" fill="#d6d6d6"/>
<rect x="323" y="98.62" width="468.5" height="0.9" fill="#c6c6c6"/>
<text y="97.15" font-family="'DejaVu Sans Mono', monospace" fill="#8000e0"><tspan x="325.95" font-size="9.7" textLength="6.32" lengthAdjust="spacingAndGlyphs">W</tspan><tspan x="332.42 339.05" font-size="11">43</tspan><tspan x="345.82" font-size="9.7" textLength="12.95" lengthAdjust="spacingAndGlyphs">BO</tspan></text>
<text y="97.15" font-family="'DejaVu Sans Mono', monospace" fill="#8000e0"><tspan x="400.75 407.38" font-size="11">43</tspan></text>
<text y="97.15" font-family="'DejaVu Sans Mono', monospace" fill="#8000e0"><tspan x="512.49" font-size="11" textLength="13" lengthAdjust="spacingAndGlyphs">-</tspan><tspan x="522.41 529.03 535.65 542.28" font-size="11">27.9</tspan></text>
<text y="97.15" font-family="'DejaVu Sans Mono', monospace" fill="#8000e0"><tspan x="565.86" font-size="11" textLength="13" lengthAdjust="spacingAndGlyphs">-</tspan><tspan x="575.79 582.41 589.03 595.65 602.28" font-size="11">106.7</tspan></text>
<text y="97.15" font-family="'DejaVu Sans Mono', monospace" fill="#8000e0"><tspan x="622.94" font-size="11">2</tspan><tspan x="629.72" font-size="9.7" textLength="26.19" lengthAdjust="spacingAndGlyphs">Edge</tspan></text>
<text y="97.15" font-family="'DejaVu Sans Mono', monospace" fill="#8000e0"><tspan x="677.51 684.13 690.75 697.38" font-size="11">61.2</tspan></text>
<text y="97.15" font-family="'DejaVu Sans Mono', monospace" fill="#c8961c"><tspan x="723.63 730.25 736.88" font-size="11">61°</tspan></text>
<text y="97.15" font-family="'DejaVu Sans Mono', monospace" fill="#c8961c"><tspan x="756.89 763.51 770.13 776.75 783.38" font-size="11">(67°)</tspan></text>
<rect x="323" y="99.52" width="468.5" height="11.22" fill="#e4e4e4"/>
<rect x="504" y="99.52" width="54" height="11.22" fill="#d6d6d6"/>
<rect x="323" y="109.84" width="468.5" height="0.9" fill="#c6c6c6"/>
<text y="108.37" font-family="'DejaVu Sans Mono', monospace" fill="#8000e0"><tspan x="325.95" font-size="9.7" textLength="26.19" lengthAdjust="spacingAndGlyphs">WAPV</tspan><tspan x="348.99" font-size="11" textLength="13" lengthAdjust="spacingAndGlyphs">-</tspan><tspan x="359.06" font-size="9.7" textLength="12.95" lengthAdjust="spacingAndGlyphs">LP</tspan></text>
<text y="108.37" font-family="'DejaVu Sans Mono', monospace" fill="#8000e0"><tspan x="400.75 407.38" font-size="11">51</tspan></text>
<text y="108.37" font-family="'DejaVu Sans Mono', monospace" fill="#8000e0"><tspan x="512.49" font-size="11" textLength="13" lengthAdjust="spacingAndGlyphs">-</tspan><tspan x="522.41 529.03 535.65 542.28" font-size="11">32.5</tspan></text>
<text y="108.37" font-family="'DejaVu Sans Mono', monospace" fill="#8000e0"><tspan x="565.86" font-size="11" textLength="13" lengthAdjust="spacingAndGlyphs">-</tspan><tspan x="575.79 582.41 589.03 595.65 602.28" font-size="11">111.3</tspan></text>
<text y="108.37" font-family="'DejaVu Sans Mono', monospace" fill="#8000e0"><tspan x="622.94" font-size="11">2</tspan><tspan x="629.72" font-size="9.7" textLength="26.19" lengthAdjust="spacingAndGlyphs">Edge</tspan></text>
<text y="108.37" font-family="'DejaVu Sans Mono', monospace" fill="#8000e0"><tspan x="677.51 684.13 690.75 697.38" font-size="11">47.9</tspan></text>
<text y="108.37" font-family="'DejaVu Sans Mono', monospace" fill="#c8601c"><tspan x="723.63 730.25 736.88" font-size="11">33°</tspan></text>
<text y="108.37" font-family="'DejaVu Sans Mono', monospace" fill="#c8601c"><tspan x="756.89 763.51 770.13 776.75 783.38" font-size="11">(39°)</tspan></text>
<rect x="323" y="110.74" width="468.5" height="11.22" fill="#e4e4e4"/>
<rect x="504" y="110.74" width="54" height="11.22" fill="#d6d6d6"/>
<rect x="323" y="121.06" width="468.5" height="0.9" fill="#c6c6c6"/>
<text y="119.59" font-family="'DejaVu Sans Mono', monospace" fill="#8000e0"><tspan x="325.95" font-size="9.7" textLength="26.19" lengthAdjust="spacingAndGlyphs">WJDG</tspan><tspan x="348.99" font-size="11" textLength="13" lengthAdjust="spacingAndGlyphs">-</tspan><tspan x="359.06" font-size="9.7" textLength="12.95" lengthAdjust="spacingAndGlyphs">LP</tspan></text>
<text y="119.59" font-family="'DejaVu Sans Mono', monospace" fill="#8000e0"><tspan x="400.75 407.38" font-size="11">23</tspan></text>
<text y="119.59" font-family="'DejaVu Sans Mono', monospace" fill="#8000e0"><tspan x="512.49" font-size="11" textLength="13" lengthAdjust="spacingAndGlyphs">-</tspan><tspan x="522.41 529.03 535.65 542.28" font-size="11">38.5</tspan></text>
<text y="119.59" font-family="'DejaVu Sans Mono', monospace" fill="#8000e0"><tspan x="565.86" font-size="11" textLength="13" lengthAdjust="spacingAndGlyphs">-</tspan><tspan x="575.79 582.41 589.03 595.65 602.28" font-size="11">117.3</tspan></text>
<text y="119.59" font-family="'DejaVu Sans Mono', monospace" fill="#8000e0"><tspan x="623.09" font-size="9.7" textLength="32.81" lengthAdjust="spacingAndGlyphs">Tropo</tspan></text>
<text y="119.59" font-family="'DejaVu Sans Mono', monospace" fill="#8000e0"><tspan x="677.51 684.13 690.75 697.38" font-size="11">82.9</tspan></text>
<text y="119.59" font-family="'DejaVu Sans Mono', monospace" fill="#c8981c"><tspan x="723.63 730.25 736.88" font-size="11">62°</tspan></text>
<text y="119.59" font-family="'DejaVu Sans Mono', monospace" fill="#c8981c"><tspan x="756.89 763.51 770.13 776.75 783.38" font-size="11">(68°)</tspan></text>
<rect x="323" y="121.96" width="468.5" height="11.22" fill="#e4e4e4"/>
<rect x="504" y="121.96" width="54" height="11.22" fill="#d6d6d6"/>
<text y="130.81" font-family="'DejaVu Sans Mono', monospace" fill="#8000e0"><tspan x="325.95" font-size="9.7" textLength="6.32" lengthAdjust="spacingAndGlyphs">W</tspan><tspan x="332.42 339.05" font-size="11">02</tspan><tspan x="345.82" font-size="9.7" textLength="12.95" lengthAdjust="spacingAndGlyphs">AT</tspan></text>
<text y="130.81" font-family="'DejaVu Sans Mono', monospace" fill="#8000e0"><tspan x="407.38" font-size="11">2</tspan></text>
<text y="130.81" font-family="'DejaVu Sans Mono', monospace" fill="#8000e0"><tspan x="512.49" font-size="11" textLength="13" lengthAdjust="spacingAndGlyphs">-</tspan><tspan x="522.41 529.03 535.65 542.28" font-size="11">39.1</tspan></text>
<text y="130.81" font-family="'DejaVu Sans Mono', monospace" fill="#8000e0"><tspan x="565.86" font-size="11" textLength="13" lengthAdjust="spacingAndGlyphs">-</tspan><tspan x="575.79 582.41 589.03 595.65 602.28" font-size="11">118.0</tspan></text>
<text y="130.81" font-family="'DejaVu Sans Mono', monospace" fill="#8000e0"><tspan x="622.94" font-size="11">2</tspan><tspan x="629.72" font-size="9.7" textLength="26.19" lengthAdjust="spacingAndGlyphs">Edge</tspan></text>
<text y="130.81" font-family="'DejaVu Sans Mono', monospace" fill="#8000e0"><tspan x="677.51 684.13 690.75 697.38" font-size="11">38.4</tspan></text>
<text y="130.81" font-family="'DejaVu Sans Mono', monospace" fill="#1f9488"><tspan x="717.01 723.63 730.25 736.88" font-size="11">162°</tspan></text>
<text y="130.81" font-family="'DejaVu Sans Mono', monospace" fill="#1f9488"><tspan x="750.26 756.89 763.51 770.13 776.75 783.38" font-size="11">(169°)</tspan></text>
<rect x="313" y="99.52" width="6.8" height="11.22" fill="#c80000"/>
<text x="316.4" y="108.32" font-family="'DejaVu Sans Mono', monospace" font-size="10" font-weight="normal" fill="#fff" text-anchor="middle" >C</text>
<rect x="313" y="110.74" width="6.8" height="11.22" fill="#c80000"/>
<text x="316.4" y="119.54" font-family="'DejaVu Sans Mono', monospace" font-size="10" font-weight="normal" fill="#fff" text-anchor="middle" >C</text>
<rect x="313" y="121.96" width="6.8" height="11.22" fill="#c80000"/>
<text x="316.4" y="130.76" font-family="'DejaVu Sans Mono', monospace" font-size="10" font-weight="normal" fill="#fff" text-anchor="middle" >C</text>
<rect x="306.1" y="110.74" width="6.8" height="11.22" fill="#ff8080"/>
<text x="309.5" y="119.54" font-family="'DejaVu Sans Mono', monospace" font-size="10" font-weight="normal" fill="#fff" text-anchor="middle" >a</text>
<rect x="346.4" y="137.6" width="7.2" height="10.8" fill="#c80000"/>
<text x="350" y="146.6" font-family="'DejaVu Sans Mono', monospace" font-size="10" font-weight="normal" fill="#fff" text-anchor="middle" >C</text>
<text x="360.6" y="148" font-family="'DejaVu Sans', sans-serif" font-size="11" font-weight="normal" fill="#111" text-anchor="start" textLength="124.2" lengthAdjust="spacingAndGlyphs" >= Co-channel warning</text>
<rect x="557.5" y="137.5" width="7" height="10.5" fill="#ff8080"/>
<text x="561" y="146.5" font-family="'DejaVu Sans Mono', monospace" font-size="10" font-weight="normal" fill="#fff" text-anchor="middle" >a</text>
<text x="571.6" y="148" font-family="'DejaVu Sans', sans-serif" font-size="11" font-weight="normal" fill="#111" text-anchor="start" textLength="156.8" lengthAdjust="spacingAndGlyphs" >= Adjacent channel warning</text>
<text x="107.9" y="401.8" font-family="'Liberation Sans', sans-serif" font-size="12.2" font-weight="bold" fill="#000" text-anchor="start" textLength="87.6" lengthAdjust="spacingAndGlyphs" >Search Criteria</text>
<rect x="108.3" y="404.8" width="87" height="1" fill="#000"/>
<text x="89.60000000000001" y="424" font-family="'Liberation Sans', sans-serif" font-size="11.5" font-weight="normal" fill="#111" text-anchor="start" textLength="123.6" lengthAdjust="spacingAndGlyphs" >CURRENT+PENDING</text>
<text x="110.65" y="436.4" font-family="'Liberation Sans', sans-serif" font-size="11.5" font-weight="normal" fill="#111" text-anchor="start" textLength="82.05" lengthAdjust="spacingAndGlyphs" >Address: exact</text>
<text x="114.9" y="448.8" font-family="'Liberation Sans', sans-serif" font-size="11.5" font-weight="normal" fill="#111" text-anchor="start" textLength="74.7" lengthAdjust="spacingAndGlyphs" >Kingsport, TN</text>
<text x="110.65" y="461.0" font-family="'Liberation Sans', sans-serif" font-size="11.5" font-weight="normal" fill="#111" text-anchor="start" textLength="82.05" lengthAdjust="spacingAndGlyphs" >Zipcode 37663</text>
<text x="112.2" y="473.4" font-family="'Liberation Sans', sans-serif" font-size="11.5" font-weight="normal" fill="#111" text-anchor="start" textLength="79.9" lengthAdjust="spacingAndGlyphs" >Height: 30.0 ft.</text>
<text x="117.4" y="509.9" font-family="'Liberation Sans', sans-serif" font-size="11.5" font-weight="normal" fill="#111" text-anchor="start" textLength="68.0" lengthAdjust="spacingAndGlyphs" >db datecode</text>
<text x="110.65" y="522.2" font-family="'Liberation Sans', sans-serif" font-size="11.5" font-weight="normal" fill="#111" text-anchor="start" textLength="82.05" lengthAdjust="spacingAndGlyphs" >201205301329</text>
<text x="101.6" y="601.9" font-family="'DejaVu Sans', sans-serif" font-size="12.5" font-weight="normal" fill="#1a1acc" text-anchor="start" textLength="100.6" lengthAdjust="spacingAndGlyphs" >www.tvfool.com</text>
<rect x="102" y="603.8" width="100" height="1" fill="#1a1acc"/>
<rect x="39.2" y="633" width="9.6" height="126.5" fill="#e8e8e8"/>
<rect x="70.2" y="633" width="30.8" height="126.5" fill="#e8e8e8"/>
<line x1="8.3" y1="645.50" x2="172.3" y2="645.50" stroke="#666" stroke-width="1" stroke-dasharray="1 1"/>
<line x1="215.7" y1="645.50" x2="791.7" y2="645.50" stroke="#666" stroke-width="1" stroke-dasharray="1 1"/>
<text x="194" y="647.90" font-family="'Liberation Sans', sans-serif" font-size="10.8" font-weight="normal" fill="#111" text-anchor="middle" textLength="16.4" lengthAdjust="spacingAndGlyphs" >-10</text>
<line x1="8.3" y1="657.50" x2="172.3" y2="657.50" stroke="#666" stroke-width="1" stroke-dasharray="1 1"/>
<line x1="215.7" y1="657.50" x2="791.7" y2="657.50" stroke="#666" stroke-width="1" stroke-dasharray="1 1"/>
<text x="194" y="659.90" font-family="'Liberation Sans', sans-serif" font-size="10.8" font-weight="normal" fill="#111" text-anchor="middle" textLength="16.4" lengthAdjust="spacingAndGlyphs" >-20</text>
<line x1="8.3" y1="670.50" x2="172.3" y2="670.50" stroke="#666" stroke-width="1" stroke-dasharray="1 1"/>
<line x1="215.7" y1="670.50" x2="791.7" y2="670.50" stroke="#666" stroke-width="1" stroke-dasharray="1 1"/>
<text x="194" y="672.90" font-family="'Liberation Sans', sans-serif" font-size="10.8" font-weight="normal" fill="#111" text-anchor="middle" textLength="16.4" lengthAdjust="spacingAndGlyphs" >-30</text>
<line x1="8.3" y1="683.50" x2="172.3" y2="683.50" stroke="#666" stroke-width="1" stroke-dasharray="1 1"/>
<line x1="215.7" y1="683.50" x2="791.7" y2="683.50" stroke="#666" stroke-width="1" stroke-dasharray="1 1"/>
<text x="194" y="685.90" font-family="'Liberation Sans', sans-serif" font-size="10.8" font-weight="normal" fill="#111" text-anchor="middle" textLength="16.4" lengthAdjust="spacingAndGlyphs" >-40</text>
<line x1="8.3" y1="696.50" x2="172.3" y2="696.50" stroke="#666" stroke-width="1" stroke-dasharray="1 1"/>
<line x1="215.7" y1="696.50" x2="791.7" y2="696.50" stroke="#666" stroke-width="1" stroke-dasharray="1 1"/>
<text x="194" y="698.90" font-family="'Liberation Sans', sans-serif" font-size="10.8" font-weight="normal" fill="#111" text-anchor="middle" textLength="16.4" lengthAdjust="spacingAndGlyphs" >-50</text>
<line x1="8.3" y1="708.50" x2="172.3" y2="708.50" stroke="#666" stroke-width="1" stroke-dasharray="1 1"/>
<line x1="215.7" y1="708.50" x2="791.7" y2="708.50" stroke="#666" stroke-width="1" stroke-dasharray="1 1"/>
<text x="194" y="710.90" font-family="'Liberation Sans', sans-serif" font-size="10.8" font-weight="normal" fill="#111" text-anchor="middle" textLength="16.4" lengthAdjust="spacingAndGlyphs" >-60</text>
<line x1="8.3" y1="721.50" x2="172.3" y2="721.50" stroke="#666" stroke-width="1" stroke-dasharray="1 1"/>
<line x1="215.7" y1="721.50" x2="791.7" y2="721.50" stroke="#666" stroke-width="1" stroke-dasharray="1 1"/>
<text x="194" y="723.90" font-family="'Liberation Sans', sans-serif" font-size="10.8" font-weight="normal" fill="#111" text-anchor="middle" textLength="16.4" lengthAdjust="spacingAndGlyphs" >-70</text>
<line x1="8.3" y1="734.50" x2="172.3" y2="734.50" stroke="#666" stroke-width="1" stroke-dasharray="1 1"/>
<line x1="215.7" y1="734.50" x2="791.7" y2="734.50" stroke="#666" stroke-width="1" stroke-dasharray="1 1"/>
<text x="194" y="736.90" font-family="'Liberation Sans', sans-serif" font-size="10.8" font-weight="normal" fill="#111" text-anchor="middle" textLength="16.4" lengthAdjust="spacingAndGlyphs" >-80</text>
<line x1="8.3" y1="747.50" x2="172.3" y2="747.50" stroke="#666" stroke-width="1" stroke-dasharray="1 1"/>
<line x1="215.7" y1="747.50" x2="791.7" y2="747.50" stroke="#666" stroke-width="1" stroke-dasharray="1 1"/>
<text x="194" y="749.90" font-family="'Liberation Sans', sans-serif" font-size="10.8" font-weight="normal" fill="#111" text-anchor="middle" textLength="16.4" lengthAdjust="spacingAndGlyphs" >-90</text>
<text x="194" y="635.6" font-family="'Liberation Sans', sans-serif" font-size="10.2" font-weight="normal" fill="#111" text-anchor="middle" textLength="21.8" lengthAdjust="spacingAndGlyphs" >dBm</text>
<text x="193.7" y="761.6" font-family="'Liberation Sans', sans-serif" font-size="8.2" font-weight="normal" fill="#111" text-anchor="middle" textLength="33.6" lengthAdjust="spacingAndGlyphs" >Channel</text>
<rect x="6.8" y="631.8" width="6.20" height="1.5" fill="#000"/>
<rect x="65" y="631.8" width="45.80" height="1.5" fill="#000"/>
<rect x="162.8" y="631.8" width="11.00" height="1.5" fill="#000"/>
<rect x="6.8" y="759.5" width="167" height="1.9" fill="#000"/>
<rect x="13" y="625" width="52" height="12.2" fill="#fff"/>
<text x="20.0" y="636.1" font-family="'Liberation Sans', sans-serif" font-size="11" font-weight="bold" fill="#000" text-anchor="start" textLength="39.0" lengthAdjust="spacingAndGlyphs" >VHF Lo</text>
<text x="118.5" y="636.1" font-family="'Liberation Sans', sans-serif" font-size="11" font-weight="bold" fill="#000" text-anchor="start" textLength="37.5" lengthAdjust="spacingAndGlyphs" >VHF Hi</text>
<rect x="214.1" y="631.8" width="268.10" height="1.5" fill="#000"/>
<rect x="523.5" y="631.8" width="269.70" height="1.5" fill="#000"/>
<rect x="214.1" y="759.5" width="579" height="1.9" fill="#000"/>
<text x="492.3" y="635.8" font-family="'Liberation Sans', sans-serif" font-size="11" font-weight="bold" fill="#000" text-anchor="start" textLength="22.4" lengthAdjust="spacingAndGlyphs" >UHF</text>
<text x="13.35" y="761.8" font-family="'DejaVu Sans Mono', monospace" font-size="7.3" font-weight="normal" fill="#111" text-anchor="middle" stroke="#fff" stroke-width="2.6" paint-order="stroke">2</text>
<text x="34.1" y="761.8" font-family="'DejaVu Sans Mono', monospace" font-size="7.3" font-weight="normal" fill="#111" text-anchor="middle" stroke="#fff" stroke-width="2.6" paint-order="stroke">4</text>
<text x="55.75" y="761.8" font-family="'DejaVu Sans Mono', monospace" font-size="7.3" font-weight="normal" fill="#111" text-anchor="middle" stroke="#fff" stroke-width="2.6" paint-order="stroke">5</text>
<text x="65" y="761.8" font-family="'DejaVu Sans Mono', monospace" font-size="7.3" font-weight="normal" fill="#111" text-anchor="middle" stroke="#fff" stroke-width="2.6" paint-order="stroke">6</text>
<text x="106.25" y="761.8" font-family="'DejaVu Sans Mono', monospace" font-size="7.3" font-weight="normal" fill="#111" text-anchor="middle" stroke="#fff" stroke-width="2.6" paint-order="stroke">7</text>
<text x="127.25" y="761.8" font-family="'DejaVu Sans Mono', monospace" font-size="7.3" font-weight="normal" fill="#111" text-anchor="middle" stroke="#fff" stroke-width="2.6" paint-order="stroke">9</text>
<text x="147.75" y="761.8" font-family="'DejaVu Sans Mono', monospace" font-size="7.3" font-weight="normal" fill="#111" text-anchor="middle" stroke="#fff" stroke-width="2.6" paint-order="stroke">11</text>
<text x="168" y="761.8" font-family="'DejaVu Sans Mono', monospace" font-size="7.3" font-weight="normal" fill="#111" text-anchor="middle" stroke="#fff" stroke-width="2.6" paint-order="stroke">13</text>
<text x="219.80" y="761.8" font-family="'DejaVu Sans Mono', monospace" font-size="7.3" font-weight="normal" fill="#111" text-anchor="middle" stroke="#fff" stroke-width="2.6" paint-order="stroke">14</text>
<text x="240.40" y="761.8" font-family="'DejaVu Sans Mono', monospace" font-size="7.3" font-weight="normal" fill="#111" text-anchor="middle" stroke="#fff" stroke-width="2.6" paint-order="stroke">16</text>
<text x="271.30" y="761.8" font-family="'DejaVu Sans Mono', monospace" font-size="7.3" font-weight="normal" fill="#111" text-anchor="middle" stroke="#fff" stroke-width="2.6" paint-order="stroke">19</text>
<text x="302.20" y="761.8" font-family="'DejaVu Sans Mono', monospace" font-size="7.3" font-weight="normal" fill="#111" text-anchor="middle" stroke="#fff" stroke-width="2.6" paint-order="stroke">22</text>
<text x="333.10" y="761.8" font-family="'DejaVu Sans Mono', monospace" font-size="7.3" font-weight="normal" fill="#111" text-anchor="middle" stroke="#fff" stroke-width="2.6" paint-order="stroke">25</text>
<text x="364.00" y="761.8" font-family="'DejaVu Sans Mono', monospace" font-size="7.3" font-weight="normal" fill="#111" text-anchor="middle" stroke="#fff" stroke-width="2.6" paint-order="stroke">28</text>
<text x="394.90" y="761.8" font-family="'DejaVu Sans Mono', monospace" font-size="7.3" font-weight="normal" fill="#111" text-anchor="middle" stroke="#fff" stroke-width="2.6" paint-order="stroke">31</text>
<text x="425.80" y="761.8" font-family="'DejaVu Sans Mono', monospace" font-size="7.3" font-weight="normal" fill="#111" text-anchor="middle" stroke="#fff" stroke-width="2.6" paint-order="stroke">34</text>
<text x="456.70" y="761.8" font-family="'DejaVu Sans Mono', monospace" font-size="7.3" font-weight="normal" fill="#111" text-anchor="middle" stroke="#fff" stroke-width="2.6" paint-order="stroke">37</text>
<text x="487.60" y="761.8" font-family="'DejaVu Sans Mono', monospace" font-size="7.3" font-weight="normal" fill="#111" text-anchor="middle" stroke="#fff" stroke-width="2.6" paint-order="stroke">40</text>
<text x="518.50" y="761.8" font-family="'DejaVu Sans Mono', monospace" font-size="7.3" font-weight="normal" fill="#111" text-anchor="middle" stroke="#fff" stroke-width="2.6" paint-order="stroke">43</text>
<text x="549.40" y="761.8" font-family="'DejaVu Sans Mono', monospace" font-size="7.3" font-weight="normal" fill="#111" text-anchor="middle" stroke="#fff" stroke-width="2.6" paint-order="stroke">46</text>
<text x="580.30" y="761.8" font-family="'DejaVu Sans Mono', monospace" font-size="7.3" font-weight="normal" fill="#111" text-anchor="middle" stroke="#fff" stroke-width="2.6" paint-order="stroke">49</text>
<text x="611.20" y="761.8" font-family="'DejaVu Sans Mono', monospace" font-size="7.3" font-weight="normal" fill="#111" text-anchor="middle" stroke="#fff" stroke-width="2.6" paint-order="stroke">52</text>
<text x="642.10" y="761.8" font-family="'DejaVu Sans Mono', monospace" font-size="7.3" font-weight="normal" fill="#111" text-anchor="middle" stroke="#fff" stroke-width="2.6" paint-order="stroke">55</text>
<text x="673.00" y="761.8" font-family="'DejaVu Sans Mono', monospace" font-size="7.3" font-weight="normal" fill="#111" text-anchor="middle" stroke="#fff" stroke-width="2.6" paint-order="stroke">58</text>
<text x="703.90" y="761.8" font-family="'DejaVu Sans Mono', monospace" font-size="7.3" font-weight="normal" fill="#111" text-anchor="middle" stroke="#fff" stroke-width="2.6" paint-order="stroke">61</text>
<text x="734.80" y="761.8" font-family="'DejaVu Sans Mono', monospace" font-size="7.3" font-weight="normal" fill="#111" text-anchor="middle" stroke="#fff" stroke-width="2.6" paint-order="stroke">64</text>
<text x="765.70" y="761.8" font-family="'DejaVu Sans Mono', monospace" font-size="7.3" font-weight="normal" fill="#111" text-anchor="middle" stroke="#fff" stroke-width="2.6" paint-order="stroke">67</text>
<text x="786.30" y="761.8" font-family="'DejaVu Sans Mono', monospace" font-size="7.3" font-weight="normal" fill="#111" text-anchor="middle" stroke="#fff" stroke-width="2.6" paint-order="stroke">69</text>
<rect x="6.8" y="631.8" width="1.5" height="129.6" fill="#000"/>
<rect x="172.3" y="631.8" width="1.5" height="129.6" fill="#000"/>
<rect x="214.1" y="631.8" width="1.5" height="129.6" fill="#000"/>
<rect x="791.7" y="631.8" width="1.5" height="129.6" fill="#000"/>
<rect x="99.00" y="719.95" width="14" height="7" rx="3" fill="#ffff00"/><rect x="101.00" y="721.95" width="10" height="3" rx="0.6" fill="#7000dc"/>
<rect x="120.00" y="687.00" width="13" height="7" rx="3" fill="#ffff00"/><rect x="122.00" y="689.00" width="9" height="3" rx="0.6" fill="#7000dc"/>
<rect x="441.95" y="688.90" width="9" height="3" rx="0.8" fill="#7000dc" stroke="#4a0090" stroke-width="0.6"/>
<text transform="translate(108.80,716.50) rotate(-90)" y="0" font-family="'DejaVu Sans Mono', monospace" font-size="9.6" fill="#8000e0"><tspan x="0.10" textLength="5.19" lengthAdjust="spacingAndGlyphs">W</tspan><tspan x="5.49" textLength="5.19" lengthAdjust="spacingAndGlyphs">K</tspan><tspan x="10.87" textLength="5.19" lengthAdjust="spacingAndGlyphs">I</tspan><tspan x="16.26" textLength="5.19" lengthAdjust="spacingAndGlyphs">N</tspan><tspan x="19.24" textLength="10.8" lengthAdjust="spacingAndGlyphs">-</tspan><tspan x="27.03" textLength="5.19" lengthAdjust="spacingAndGlyphs">L</tspan><tspan x="32.41" textLength="5.19" lengthAdjust="spacingAndGlyphs">P</tspan></text>
<text transform="translate(130.00,684.60) rotate(-90)" y="0" font-family="'DejaVu Sans Mono', monospace" font-size="9.6" fill="#8000e0"><tspan x="0.10" textLength="5.46" lengthAdjust="spacingAndGlyphs">W</tspan><tspan x="5.76" textLength="5.46" lengthAdjust="spacingAndGlyphs">O</tspan><tspan x="11.41" textLength="5.46" lengthAdjust="spacingAndGlyphs">P</tspan><tspan x="17.07" textLength="5.46" lengthAdjust="spacingAndGlyphs">I</tspan><tspan x="20.33" textLength="10.8" lengthAdjust="spacingAndGlyphs">-</tspan><tspan x="28.39" textLength="5.46" lengthAdjust="spacingAndGlyphs">C</tspan><tspan x="34.04" textLength="5.46" lengthAdjust="spacingAndGlyphs">A</tspan></text>
<text transform="translate(450.10,684.60) rotate(-90)" y="0" font-family="'DejaVu Sans Mono', monospace" font-size="9.6" fill="#8000e0"><tspan x="0.10" textLength="5.91" lengthAdjust="spacingAndGlyphs">W</tspan><tspan x="6.21" textLength="5.91" lengthAdjust="spacingAndGlyphs">A</tspan><tspan x="12.33" textLength="5.91" lengthAdjust="spacingAndGlyphs">P</tspan><tspan x="18.44" textLength="5.91" lengthAdjust="spacingAndGlyphs">K</tspan><tspan x="22.16" textLength="10.8" lengthAdjust="spacingAndGlyphs">-</tspan><tspan x="30.67" textLength="5.91" lengthAdjust="spacingAndGlyphs">C</tspan><tspan x="36.79" textLength="5.91" lengthAdjust="spacingAndGlyphs">A</tspan></text>
</svg></body></html>
